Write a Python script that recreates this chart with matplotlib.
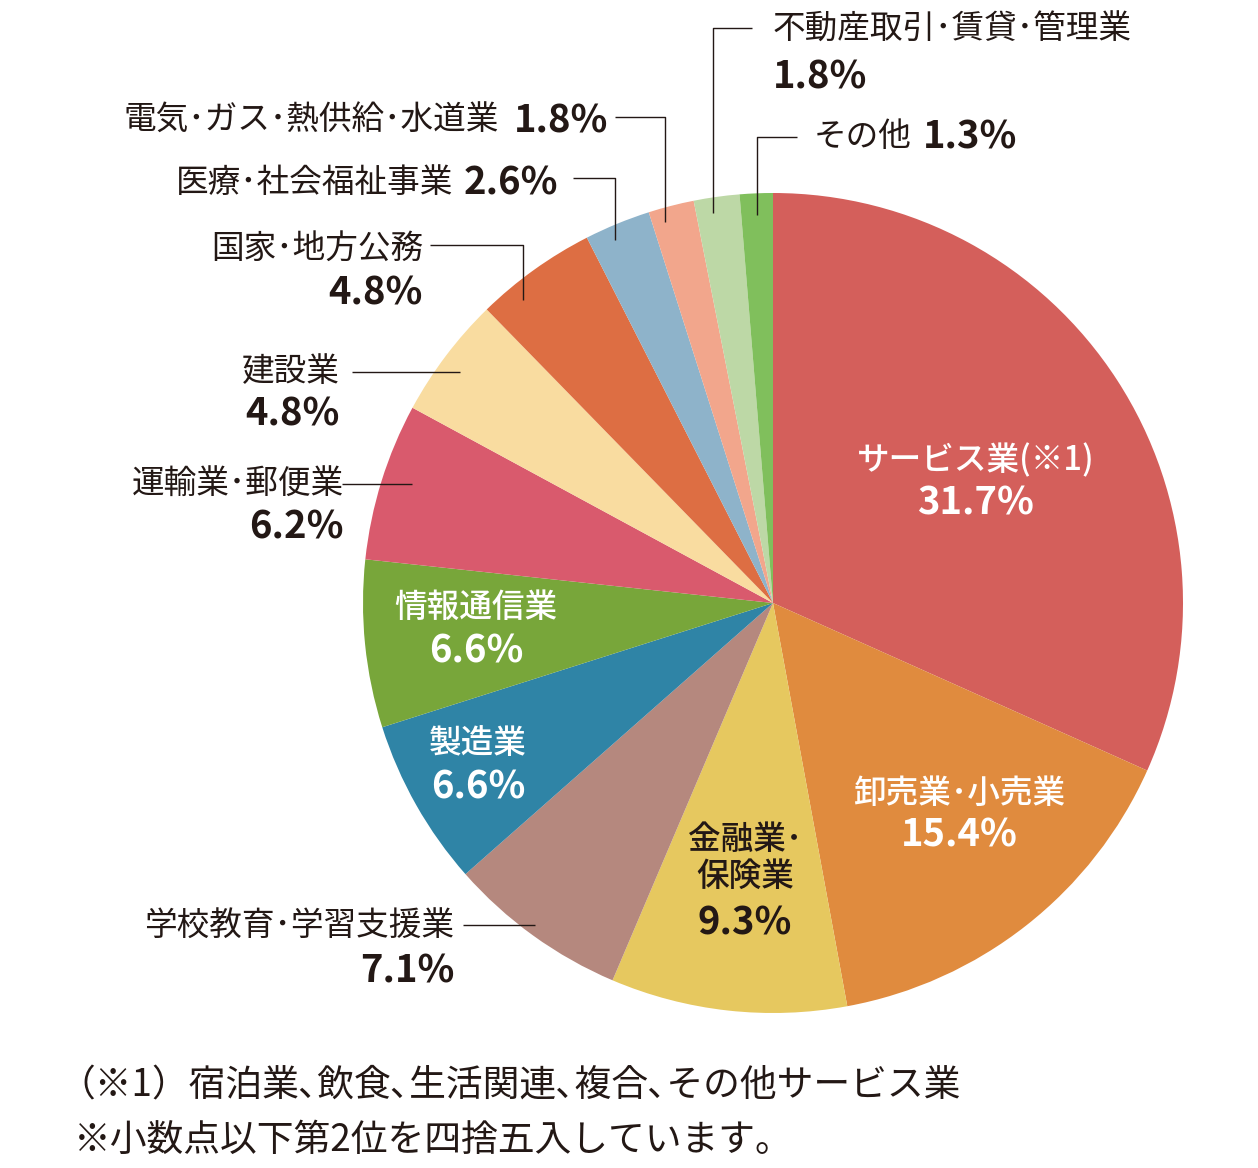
import matplotlib
matplotlib.use("Agg")
import matplotlib.pyplot as plt

plt.rcParams["font.family"] = ["Noto Sans CJK JP", "DejaVu Sans"]

# ---- data ----
categories = ["サービス業(※1)", "卸売業･小売業", "金融業･\n保険業", "学校教育･学習支援業",
              "製造業", "情報通信業", "運輸業･郵便業", "建設業", "国家･地方公務",
              "医療･社会福祉事業", "電気･ガス･熱供給･水道業", "不動産取引･賃貸･管理業", "その他"]
values = [31.7, 15.4, 9.3, 7.1, 6.6, 6.6, 6.2, 4.8, 4.8, 2.6, 1.8, 1.8, 1.3]
pct_labels = ["31.7%", "15.4%", "9.3%", "7.1%", "6.6%", "6.6%", "6.2%", "4.8%", "4.8%",
              "2.6%", "1.8%", "1.8%", "1.3%"]
colors = ["#D45F5B", "#E08B3E", "#E6C85F", "#B5887E", "#2F84A6", "#78A63A", "#D95A6D",
          "#F9DCA0", "#DD6E43", "#8EB3CA", "#F2A68C", "#BDD8A6", "#80BF5C"]
footnotes = ["（※1）宿泊業､飲食､生活関連､複合､その他サービス業",
             "※小数点以下第2位を四捨五入しています。"]

# ---- layout (pixel coordinates) ----
W, H = 1258, 1168
CX, CY, R = 773, 603, 410
DARK = "#231815"
NAME_FS = 23.5
PCT_FS = 27.5
IN_NAME_FS = 23.5
IN_PCT_FS = 27.5
FOOT_FS = 26.5

fig = plt.figure(figsize=(W / 100, H / 100), dpi=100)
ax = fig.add_axes([0, 0, 1, 1])
ax.pie(values, colors=colors, startangle=-90, counterclock=True,
       center=(CX, CY), radius=R, wedgeprops=dict(linewidth=0))
ax.set_xlim(0, W)
ax.set_ylim(H, 0)
ax.set_aspect("equal")
ax.axis("off")

# inside labels: (index, x, y_name, y_pct)
inside = [(0, 976, 461, 503), (1, 959, 793, 835), (4, 478, 744, 787), (5, 476, 607, 651)]
for i, x, yn, yp in inside:
    ax.text(x, yn, categories[i], color="white", fontsize=IN_NAME_FS, fontweight="medium",
            ha="center", va="center")
    ax.text(x, yp, pct_labels[i], color="white", fontsize=IN_PCT_FS, fontweight="bold",
            ha="center", va="center")
# finance (dark text, two lines)
ax.text(745, 858, categories[2], color=DARK, fontsize=IN_NAME_FS, fontweight="medium",
        ha="center", va="center", linespacing=1.1)
ax.text(745, 923, pct_labels[2], color=DARK, fontsize=IN_PCT_FS, fontweight="bold",
        ha="center", va="center")

# outside labels
def two_line(i, x, yn, yp, ha="right"):
    ax.text(x, yn, categories[i], color=DARK, fontsize=NAME_FS, ha=ha, va="center")
    ax.text(x, yp, pct_labels[i], color=DARK, fontsize=PCT_FS, fontweight="bold",
            ha=ha, va="center")

two_line(11, 773, 30, 77, ha="left")
two_line(8, 423, 249, 293)
two_line(7, 340, 372, 414)
two_line(6, 344, 485, 527)
two_line(3, 454, 926, 971)

def one_line(i, x_name_right, x_pct_left, y):
    ax.text(x_name_right, y, categories[i], color=DARK, fontsize=NAME_FS, ha="right", va="center")
    ax.text(x_pct_left, y, pct_labels[i], color=DARK, fontsize=PCT_FS, fontweight="bold",
            ha="left", va="center")

one_line(10, 499, 514, 121)
one_line(9, 453, 464, 183)
ax.text(814, 137, categories[12], color=DARK, fontsize=NAME_FS, ha="left", va="center")
ax.text(923, 137, pct_labels[12], color=DARK, fontsize=PCT_FS, fontweight="bold",
        ha="left", va="center")

# leader lines
leaders = [
    [(752, 28), (713, 28), (713, 213)],
    [(797, 137), (757, 137), (757, 215)],
    [(615, 117), (665, 117), (665, 222)],
    [(573, 178), (615, 178), (615, 240)],
    [(430, 245), (523, 245), (523, 300)],
    [(352, 372), (460, 372)],
    [(342, 484), (412, 484)],
    [(463, 925), (535, 925)],
]
for pts in leaders:
    xs, ys = zip(*pts)
    ax.plot(xs, ys, color=DARK, linewidth=1.0, solid_capstyle="butt")

# footnotes
ax.text(58, 1086, footnotes[0], color=DARK, fontsize=FOOT_FS, ha="left", va="center")
ax.text(74, 1140, footnotes[1], color=DARK, fontsize=FOOT_FS, ha="left", va="center")

fig.savefig("out.png", dpi=100)
